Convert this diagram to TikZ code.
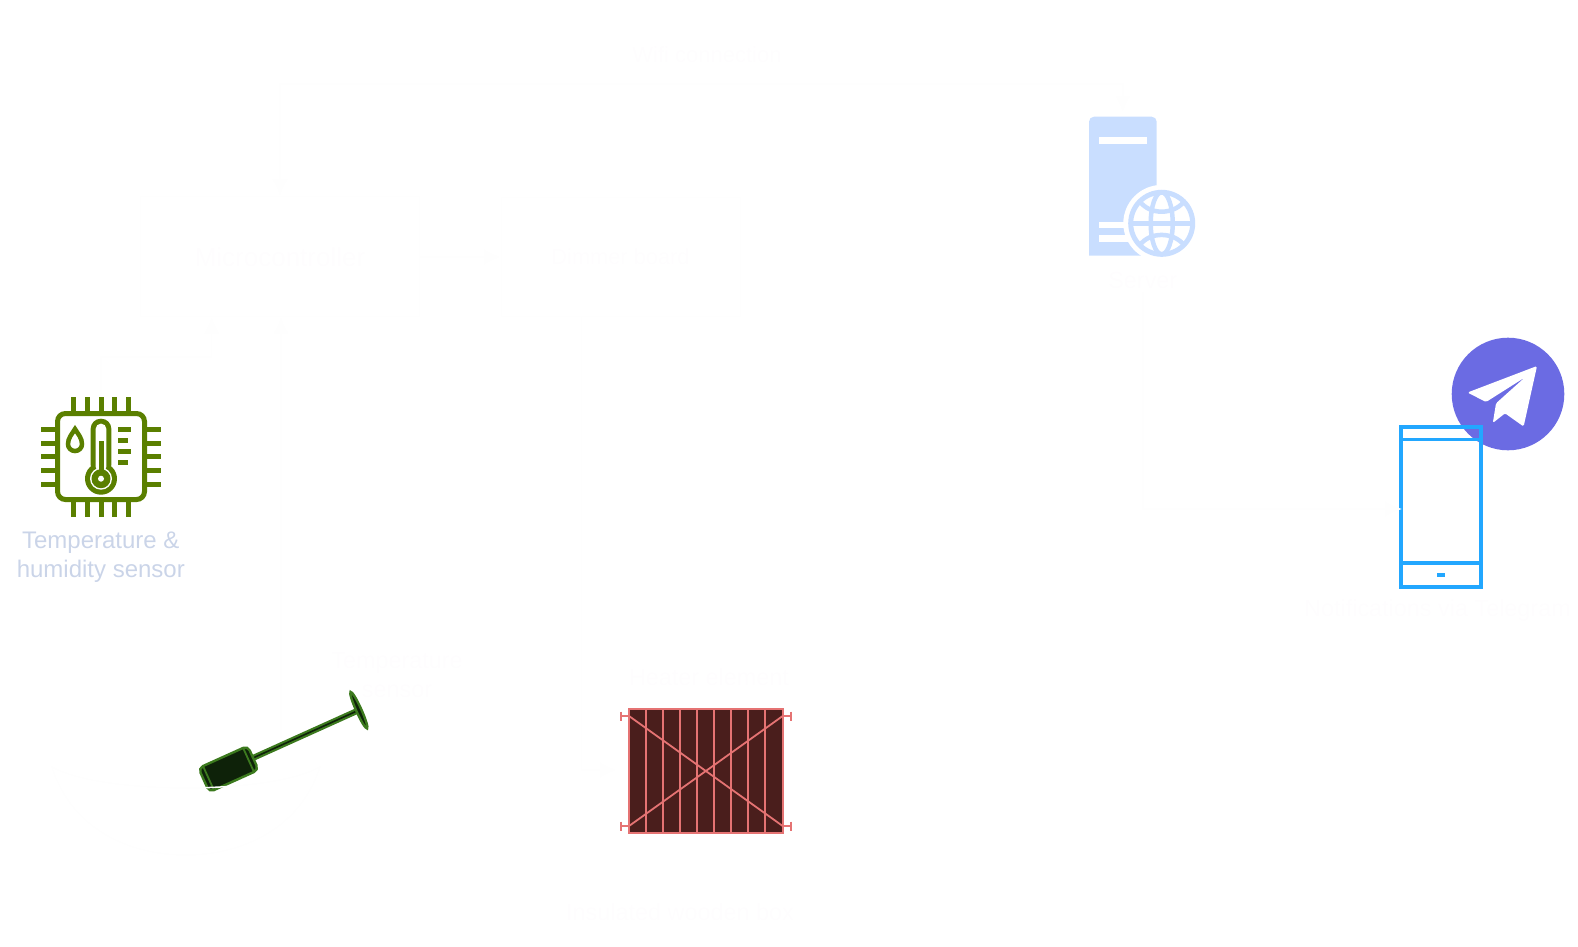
\documentclass[tikz,border=0pt]{standalone}
\usepackage{fontspec}
\setmainfont{Liberation Sans}
\usetikzlibrary{arrows.meta, positioning}

\definecolor{faintline}{HTML}{FEFEFE}
\definecolor{fainttext}{HTML}{FEFDFE}
\definecolor{chipgreen}{HTML}{5A7F00}
\definecolor{sensortext}{HTML}{CAD4E8}
\definecolor{serverblue}{HTML}{C9DEFF}
\definecolor{phoneblue}{HTML}{22A7FF}
\definecolor{tgviolet}{HTML}{6B6BE3}
\definecolor{probegreen}{HTML}{3C7A1E}
\definecolor{probedark}{HTML}{0E2209}
\definecolor{heaterdark}{HTML}{4A1E1C}
\definecolor{heaterline}{HTML}{E57373}

\tikzset{
  link/.style={draw=faintline, line width=1.5pt, -{Latex[length=17pt,width=16pt]}},
  duallink/.style={link, {Latex[length=17pt,width=16pt]}-{Latex[length=17pt,width=16pt]}},
  ctrlbox/.style={draw=faintline, line width=1pt, rectangle},
  label/.style={text=fainttext, align=center, font=\fontsize{23.4}{28.5}\selectfont},
}

\begin{document}
\begin{tikzpicture}[x=1pt, y=-1pt]
  \useasboundingbox (0,0) rectangle (1578,946);

  % Control boards
  \node[ctrlbox, minimum width=278.6pt, minimum height=120pt, label, font=\fontsize{26}{30}\selectfont] (micro) at (280,256.7) {Microcontroller};
  \node[ctrlbox, minimum width=239pt, minimum height=119pt, label, font=\fontsize{21.8}{26}\selectfont] (dimmer) at (620.5,257.2) {Dimmer board};
  \node[label, font=\fontsize{22}{26}\selectfont] (wifi) at (707,55) {Wifi connection};

  % Chip with temperature and humidity
  \node[minimum width=120pt, minimum height=120pt] (chip) at (101,457) {};
  \draw[chipgreen, line width=5pt, rounded corners=8pt] (57.5,413.5) rectangle (144.5,499.5);
  \foreach \p in {73.7,87,101,114.7,128} {
    \fill[chipgreen] (\p-2.5,397.3) rectangle (\p+2.5,411);
    \fill[chipgreen] (\p-2.5,502) rectangle (\p+2.5,516.7);
  }
  \foreach \p in {429.3,443.3,456.7,470.3,484} {
    \fill[chipgreen] (41,\p-2.5) rectangle (55,\p+2.5);
    \fill[chipgreen] (147,\p-2.5) rectangle (161,\p+2.5);
  }
  \foreach \p/\e in {429.3/131, 440/128, 451.3/131, 462.3/128} {
    \fill[chipgreen] (117.7,\p-2.5) rectangle (\e,\p+2.5);
  }
  % Thermometer
  \fill[chipgreen, rounded corners=10pt] (90.7,418.7) rectangle (111.3,475);
  \fill[chipgreen] (101,478.7) circle (16pt);
  \fill[white, rounded corners=5pt] (95.7,423.7) rectangle (106.3,472);
  \fill[white] (101,478.7) circle (11pt);
  \fill[chipgreen] (101,478.7) circle (9.5pt);
  \fill[chipgreen] (98.5,440.7) rectangle (103.5,472);
  \fill[white] (101,478.7) circle (3pt);
  % Water drop
  \draw[chipgreen, line width=4.5pt] (75,429) .. controls (72,434) and (68,438) .. (68,444)
    .. controls (68,448) and (71,451) .. (75,451) .. controls (79,451) and (82,448) .. (82,444)
    .. controls (82,438) and (78,434) .. (75,429) -- cycle;
  \node[text=sensortext, align=center, font=\fontsize{24}{29}\selectfont] (chiptext) at (100.8,557.5) {Temperature \&\\humidity sensor};

  % Server with globe
  \node[minimum width=67.7pt, minimum height=139pt] (server) at (1122.8,186.2) {};
  \fill[serverblue] (1089,255.7) [rounded corners=5pt] -- (1089,116.7) -- (1156.7,116.7) [sharp corners] -- (1156.7,255.7) -- cycle;
  \foreach \p/\q in {137.3/144, 221.7/228.3, 235/242.3} {
    \fill[white] (1099.3,\p) rectangle (1147,\q);
  }
  \fill[white] (1161.7,223.3) circle (38.4pt);
  \draw[serverblue, line width=5pt] (1161.7,223.3) circle (31pt);
  \draw[serverblue, line width=4.5pt] (1161.7,223.3) ellipse (11pt and 31pt);
  \draw[serverblue, line width=4.5pt] (1130.7,223.3) -- (1192.7,223.3);
  \draw[serverblue, line width=4.5pt] (1140,201.7) .. controls (1150,215) and (1173,215) .. (1184,201.7);
  \draw[serverblue, line width=4.5pt] (1140,244.9) .. controls (1150,231.6) and (1173,231.6) .. (1184,244.9);
  \node[label] (servertext) at (1142.8,280) {Server};

  % Telegram badge
  \fill[tgviolet] (1508,394) circle (56.3pt);
  \fill[white, rounded corners=1.5pt] (1537,366) -- (1467.5,392.5) -- (1486,402) -- (1525,377.3)
    -- (1496,403.3) -- (1492.8,423) -- (1505,413.3) -- (1523.6,426.5) -- cycle;

  % Phone
  \node[draw=phoneblue, line width=4pt, minimum width=80pt, minimum height=160pt, inner sep=0pt, outer sep=0pt] (phone) at (1441,507) {};
  \draw[phoneblue, line width=3pt] (1401,439.7) -- (1481,439.7);
  \draw[phoneblue, line width=4pt] (1401,563) -- (1481,563);
  \fill[phoneblue] (1436.7,573) rectangle (1445,577);
  \node[label] (phonetext) at (1437.5,610) {Notifications via Telegram};

  % Probe
  \begin{scope}[shift={(228.5,769)}, rotate=24.3]
    \draw[probegreen, line width=6pt] (25,0) -- (141.5,0);
    \draw[probedark, line width=1.6pt] (25,0) -- (141.5,0);
    \draw[probegreen, line width=2.4pt, fill=probedark] (143,0) ellipse (2.6pt and 20pt);
    \draw[probegreen, line width=2.4pt, fill=probedark, rounded corners=5pt] (-27,-13.2) rectangle (27,13.2);
    \foreach \e in {-22,22} {
      \draw[probegreen, line width=1.8pt] (\e,-13.2) -- (\e,13.2);
    }
  \end{scope}
  \node[label] (probetext) at (397,675) {Temperature\\sensor};
  \coordinate (probe) at (281,738);

  % Heater element
  \node[draw=heaterline, line width=2pt, fill=heaterdark, minimum width=153.7pt, minimum height=124.3pt, inner sep=0pt, outer sep=0pt] (heater) at (705.85,771.15) {};
  \foreach \x in {646.3,663.3,680.3,697.3,714.3,731,748,765} {
    \draw[heaterline, line width=2pt] (\x,709) -- (\x,833.3);
  }
  \draw[heaterline, line width=1.8pt] (629,716) -- (782.7,826);
  \draw[heaterline, line width=1.8pt] (629,826) -- (782.7,716);
  \foreach \p in {716,826} {
    \draw[heaterline, line width=1.8pt] (620.7,\p) -- (629,\p);
    \draw[heaterline, line width=1.8pt] (782.7,\p) -- (791,\p);
    \draw[heaterline, line width=1.8pt] (620.7,\p-4.5) -- (620.7,\p+4.5);
    \draw[heaterline, line width=1.8pt] (791,\p-4.5) -- (791,\p+4.5);
  }
  \node[label] (heatertext) at (709,676.7) {Heater element};
  \node[label] (boxtext) at (680,911.7) {Insulated wooden box};

  % Bowl in front of the probe
  \draw[faintline, line width=1.5pt] (51.7,766.7) .. controls (100,795) and (272,795) .. (320,766.7)
    .. controls (300,830) and (240,855) .. (186,855) .. controls (130,855) and (72,830) .. (51.7,766.7) -- cycle;

  % Connectors
  \coordinate (microleft) at (211.7,316.7);
  \coordinate (microright) at (281,316.7);
  \coordinate (wifibend) at (1122.8,84);
  \coordinate (chipbend) at (211.7,357);
  \coordinate (dimmerin) at (501,257);
  \coordinate (micromid) at (419.3,257);
  \coordinate (dimmerout) at (581.7,316.7);
  \coordinate (heaterin) at (617,770);
  \coordinate (phonein) at (1402,509);
  \draw[duallink, shorten >=4pt] (micro.north) |- (wifibend) -- (server.north);
  \draw[link] (chip.north) |- (chipbend) -- (microleft);
  \draw[link] (probe) -- (microright);
  \draw[link] (micromid) -- (dimmerin);
  \draw[link] (dimmerout) |- (heaterin);
  \draw[link] (servertext.south) |- (phonein);
\end{tikzpicture}
\end{document}
